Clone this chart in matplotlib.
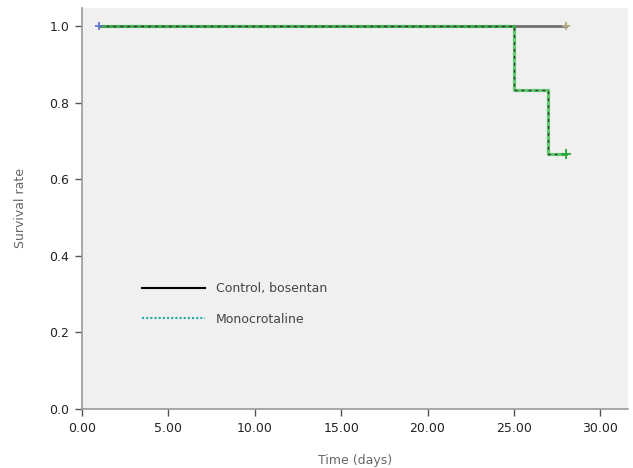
import matplotlib.pyplot as plt
from matplotlib.lines import Line2D

# Kaplan-Meier step data
control_t = [1, 28]
control_s = [1.0, 1.0]
mono_t = [1, 25, 25, 27, 27, 28]
mono_s = [1.0, 1.0, 0.833, 0.833, 0.667, 0.667]

xticks = [0, 5, 10, 15, 20, 25, 30]
yticks = [0.0, 0.2, 0.4, 0.6, 0.8, 1.0]

fig = plt.figure(figsize=(6.33, 4.68), dpi=100)
ax = fig.add_axes([0.1295, 0.126, 0.8625, 0.857])
ax.set_facecolor('#f0f0f0')

ax.plot(control_t, control_s, color='#707070', lw=2.0, zorder=2)
ax.plot(mono_t, mono_s, color='#33bb44', lw=2.3, alpha=0.75, zorder=3)
ax.plot(mono_t, mono_s, color='#333333', lw=1.0, ls=(0, (2, 3)), zorder=4)
# censor marks
ax.plot([1], [1.0], marker='+', color='#6677cc', ms=6, mew=1.3, zorder=5)
ax.plot([28], [1.0], marker='+', color='#b0a880', ms=6, mew=1.3, zorder=5)
ax.plot([28], [0.667], marker='+', color='#22aa33', ms=7, mew=1.3, zorder=5)

ax.set_xlim(0, 31.6)
ax.set_ylim(0, 1.047)
ax.set_xticks(xticks)
ax.set_xticklabels(['%.2f' % v for v in xticks])
ax.set_yticks(yticks)
ax.set_yticklabels(['%.1f' % v for v in yticks])

for side in ['top', 'right']:
    ax.spines[side].set_visible(False)
for side in ['left', 'bottom']:
    ax.spines[side].set_color('#999999')
    ax.spines[side].set_linewidth(1.2)
ax.tick_params(direction='out', length=5, width=1, color='#555555',
               labelsize=9, labelcolor='#222222', pad=4)

ax.set_xlabel('Time (days)', fontsize=9, color='#666666', labelpad=14)
ax.set_ylabel('Survival rate', fontsize=9, color='#666666', labelpad=16)

handles = [Line2D([], [], color='black', lw=1.5),
           Line2D([], [], color='#22aaaa', lw=1.5, ls=(0, (1, 1)))]
ax.legend(handles, ['Control, bosentan', 'Monocrotaline'],
          loc='lower left', bbox_to_anchor=(0.09, 0.18), frameon=False,
          fontsize=9, handlelength=5.0, handletextpad=0.9, labelspacing=1.4,
          labelcolor='#444444')

fig.savefig('out.png', dpi=100)
